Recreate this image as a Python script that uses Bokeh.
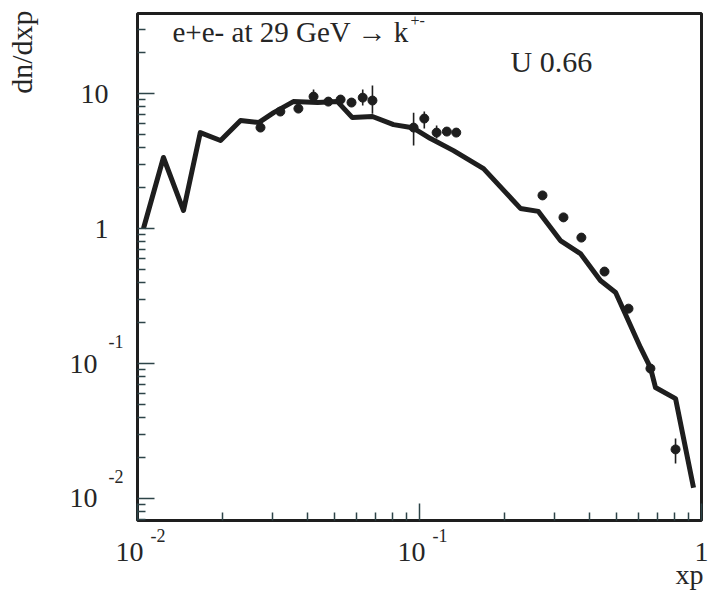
import math
from bokeh.plotting import figure
from bokeh.models import Label, FixedTicker, CustomJSTickFormatter, ColumnDataSource
from bokeh.core.properties import value
from bokeh.embed import file_html
from bokeh.resources import INLINE

# ---- data -----------------------------------------------------------
# model curve (U 0.66)
curve_x = [0.0105, 0.01236, 0.01456, 0.0167, 0.0197, 0.0232, 0.0269, 0.0304,
           0.0357, 0.0435, 0.0512, 0.0578, 0.0681, 0.0809, 0.0945, 0.1094,
           0.132, 0.1687, 0.228, 0.264, 0.316, 0.372, 0.438, 0.496, 0.608,
           0.659, 0.687, 0.809, 0.937]
curve_y = [1.0, 3.36, 1.36, 5.14, 4.49, 6.31, 6.10, 7.23,
           8.72, 8.58, 8.72, 6.64, 6.76, 5.89, 5.59, 4.64,
           3.78, 2.78, 1.41, 1.34, 0.815, 0.653, 0.412, 0.336, 0.131,
           0.0934, 0.0664, 0.055, 0.0120]

# measured points (e+e- at 29 GeV -> K+-)
data_x = [0.0273, 0.0321, 0.0372, 0.0421, 0.0475, 0.0525, 0.0574, 0.0629,
          0.0681, 0.0953, 0.104, 0.115, 0.125, 0.135, 0.273, 0.324, 0.375,
          0.453, 0.551, 0.659, 0.809]
data_y = [5.6, 7.36, 7.74, 9.5, 8.72, 9.03, 8.58, 9.33,
          8.88, 5.6, 6.53, 5.14, 5.23, 5.14, 1.76, 1.21, 0.857,
          0.48, 0.255, 0.0918, 0.0231]

# error bars
err_x = [0.0421, 0.0629, 0.0681, 0.0953, 0.104, 0.115, 0.809]
err_lo = [8.43, 8.15, 7.1, 4.12, 5.5, 4.64, 0.0182]
err_hi = [10.7, 10.7, 11.5, 7.2, 7.36, 5.8, 0.0278]

# tick labels
x_tick_vals = [0.01, 0.1, 1.0]
x_tick_base = ["10", "10", "1"]
x_tick_exp = ["-2", "-1", ""]
y_tick_vals = [10.0, 1.0, 0.1, 0.01]
y_tick_base = ["10", "1", "10", "10"]
y_tick_exp = ["", "", "-1", "-2"]

x_minor = [m * d for d in (0.01, 0.1) for m in range(2, 10)]
y_minor = [m * d for d in (0.001, 0.01, 0.1, 1.0, 10.0) for m in range(2, 10)]

title_text = "e+e- at 29 GeV \u2192 k"
title_sup = "+-"
param_text = "U 0.66"
x_label = "xp"
y_label = "dn/dxp"

# ---- figure ---------------------------------------------------------
X0, X1 = 0.01, 1.0
Y0, Y1 = 0.00687, 39.2
FONT = "Liberation Serif"
INK = "#1e1e1e"
TXT = "#262626"

p = figure(width=708, height=592, x_axis_type="log", y_axis_type="log",
           x_range=(X0, X1), y_range=(Y0, Y1),
           output_backend="svg", toolbar_location=None,
           min_border_left=137, min_border_right=7,
           min_border_top=13, min_border_bottom=72)
p.grid.visible = False
p.background_fill_color = "white"
p.border_fill_color = "white"
p.outline_line_color = INK
p.outline_line_width = 3

p.xaxis.ticker = FixedTicker(ticks=x_tick_vals, minor_ticks=x_minor)
p.yaxis.ticker = FixedTicker(ticks=y_tick_vals, minor_ticks=y_minor)
for ax in (p.xaxis[0], p.yaxis[0]):
    ax.axis_line_color = None
    ax.major_tick_in = 17
    ax.major_tick_out = 0
    ax.minor_tick_in = 8
    ax.minor_tick_out = 0
    ax.major_tick_line_color = "#2d4448"
    ax.minor_tick_line_color = "#2d4448"
    ax.major_tick_line_width = 1.5
    ax.minor_tick_line_width = 1.5
    ax.formatter = CustomJSTickFormatter(code="return ''")
    ax.major_label_standoff = 0

# curve
p.line(curve_x, curve_y, line_color=INK, line_width=5, line_join="round")
# error bars
p.segment(x0=err_x, y0=err_lo, x1=err_x, y1=err_hi, line_color=INK, line_width=1.6)
# points
p.scatter(data_x, data_y, size=9, color=INK)


def txt(xs, ys, texts, dxs, dys, size, align, base="middle", angle=0.0):
    src = ColumnDataSource(dict(x=xs, y=ys, text=texts, dx=dxs, dy=dys))
    p.text(x="x", y="y", text="text", x_offset="dx", y_offset="dy", source=src,
           text_font=value(FONT), text_font_size=value(f"{size}px"),
           text_color=TXT, text_align=align, text_baseline=base,
           angle=angle, level="overlay")


# y tick labels: bases (right aligned) and exponents
txt([X0] * len(y_tick_vals), y_tick_vals, y_tick_base,
    [-40 if e else -29 for e in y_tick_exp], [0] * len(y_tick_vals), 28, "right")
ye = [(v, e) for v, e in zip(y_tick_vals, y_tick_exp) if e]
txt([X0] * len(ye), [v for v, _ in ye], [e for _, e in ye],
    [-29] * len(ye), [-22] * len(ye), 18, "left")

# x tick labels
txt(x_tick_vals, [Y0] * len(x_tick_vals), x_tick_base,
    [6 if e else 7 for e in x_tick_exp], [31] * len(x_tick_vals), 28, "right")
xe = [(v, e) for v, e in zip(x_tick_vals, x_tick_exp) if e]
txt([v for v, _ in xe], [Y0] * len(xe), [e for _, e in xe],
    [13] * len(xe), [15] * len(xe), 18, "left")

# axis titles
txt([X1], [Y0], [x_label], [2], [54], 28, "right")
txt([X0], [Y1], [y_label], [-116], [-3], 30, "right", angle=math.pi / 2)


# in-plot texts
def lab(text, dx, dy, size):
    p.add_layout(Label(x=X0, y=Y1, x_offset=dx, y_offset=dy, text=text,
                       text_font=FONT, text_font_size=f"{size}px",
                       text_color=TXT, text_align="left", text_baseline="middle"))


lab(title_text, 35, -18, 29)
lab(title_sup, 273, -7, 16)
lab(param_text, 373, -48, 30)

open("out.html", "w").write(file_html(p, INLINE))
